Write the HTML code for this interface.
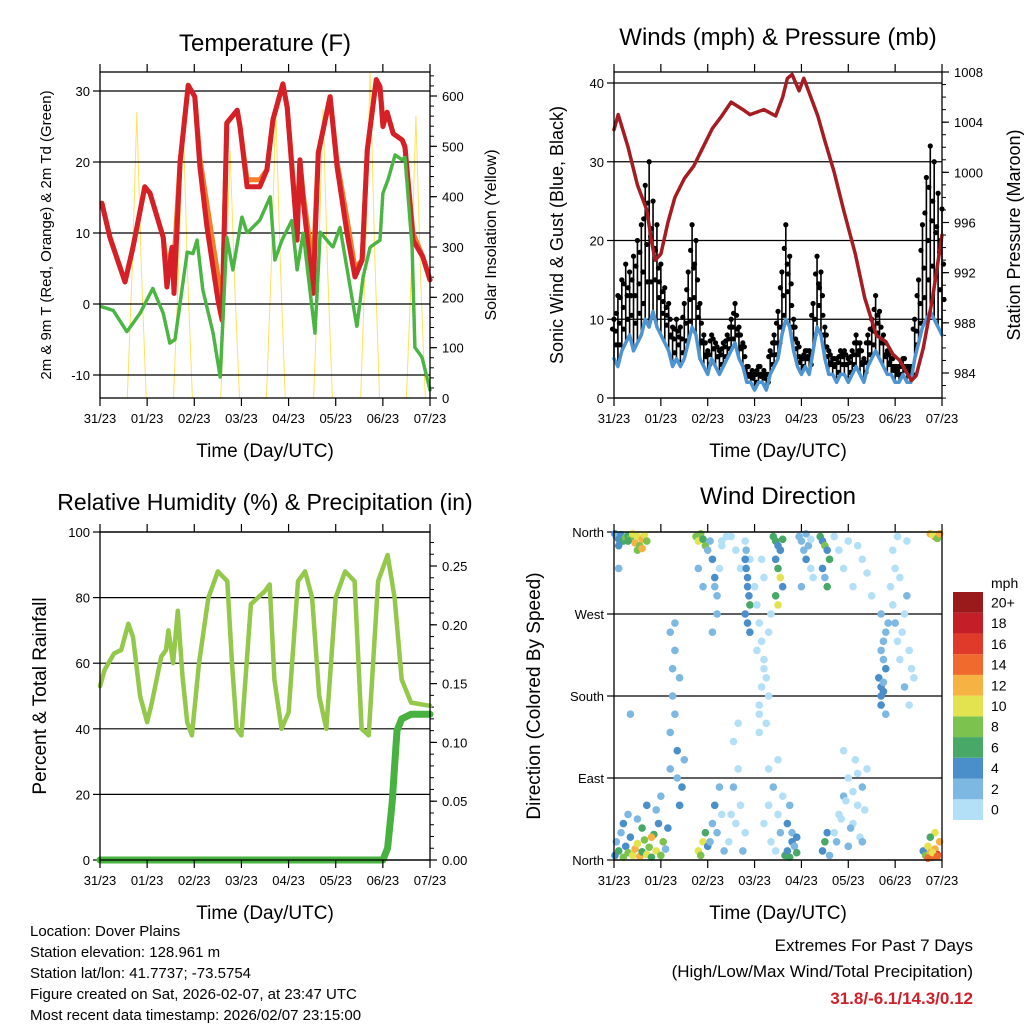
<!DOCTYPE html>
<html><head><meta charset="utf-8"><style>
body{margin:0;background:#fff;}
svg{display:block;font-family:"Liberation Sans",sans-serif;}
</style></head><body>
<svg id="c" width="1024" height="1024" viewBox="0 0 1024 1024"></svg>
<script>
// ---------- DATA ----------
const dayLabels=["31/23","01/23","02/23","03/23","04/23","05/23","06/23","07/23"];
const tempTicks=[-10,0,10,20,30];
const solarTicks=[0,100,200,300,400,500,600];
const windTicks=[0,10,20,30,40];
const presTicks=[984,988,992,996,1000,1004,1008];
const rhTicks=[0,20,40,60,80,100];
const rainTicks=[0,0.05,0.10,0.15,0.20,0.25];
const rainTickLabels=["0.00","0.05","0.10","0.15","0.20","0.25"];
const dirTicks=[0,90,180,270,360];
const dirLabels=["North","East","South","West","North"];
const speedBins=["0","2","4","6","8","10","12","14","16","18","20+"];

const tempT=[0.04,0.21,0.53,0.70,0.95,1.06,1.34,1.42,1.53,1.57,1.70,1.87,2.01,2.12,2.27,2.50,2.59,2.69,2.91,2.97,3.12,3.39,3.54,3.67,3.88,3.97,4.14,4.18,4.24,4.31,4.52,4.63,4.88,5.03,5.24,5.41,5.56,5.67,5.86,5.94,6.00,6.09,6.22,6.41,6.47,6.64,6.85,7.0];
const tempRed=[14.2,9.4,3.1,8,16.5,15.6,9.4,2.4,8,1.5,20,30.8,29.2,19.3,10.8,0.6,-2.3,25.5,27.3,25,16.5,16.5,18.9,26,31,27.7,13.2,9,20.3,14.6,1.5,21.3,29.2,19.3,10,3.8,6.2,21.7,31.6,30.6,25,27,24,23.1,22.1,9,6.6,3.4];
const tempOrange=[14.2,9.4,3.1,8,16.5,15.6,9.4,5,8,6,20,30.8,29.2,20.5,14,4,-1,25.5,27.3,25,17.5,17.5,18.9,26,31,27.7,14,11,20.3,15.5,5,21.3,29.2,20,12,5,6.2,21.7,31.6,30.6,26,27,24,23.1,22.1,10,6.6,3.4];
const dewT=[0.04,0.28,0.57,0.85,1.12,1.34,1.48,1.59,1.85,1.97,2.06,2.18,2.40,2.55,2.69,2.82,3.01,3.12,3.39,3.61,3.71,3.86,4.07,4.18,4.31,4.56,4.67,4.94,5.09,5.45,5.58,5.73,5.94,6.00,6.11,6.26,6.41,6.47,6.62,6.68,6.83,7.0];
const dewV=[-0.4,-0.9,-3.9,-1.3,2.2,-1.3,-5.5,-5,7.3,7.1,9,2,-4.1,-10.3,9.4,4.8,12.3,10,11.8,15.1,6.2,9,11.8,4.8,10,-4.1,10.1,8,10.8,-3.2,3.8,8,9,15.6,17.5,21,20.3,20.7,8,-6.1,-7.5,-12.1];
const solarT=[0.58,0.68,0.78,0.88,0.98, 1.56,1.66,1.76,1.86,1.96, 2.56,2.66,2.76,2.86,2.96, 3.53,3.63,3.73,3.83,3.93, 4.53,4.63,4.73,4.83,4.93, 5.53,5.63,5.73,5.83,5.93, 6.50,6.60,6.70,6.80,6.90];
const solarV=[0,250,567,250,0, 0,240,560,240,0, 0,220,490,220,0, 0,250,573,250,0, 0,250,573,250,0, 0,280,648,280,0, 0,240,560,240,0];

const wind=[5,4,6,7,8,6,7, 8,10,9,11,9,8,7,6, 4,5,4,5, 7,9,8,5, 4,3,5,4,3,4,5, 6,7,5,4, 2,2,1,2,2,1, 3,4,5, 8,10,9,6, 4,3,4,3, 6,9,8,5, 3,3,2,3,3,2,3,4,3,2, 4,5,6,5,4,3, 3,2,2,3,2,2, 5,7,9,10,11,10,9,8];
const gust=[10,13,15,17,16,18,20, 22,27,30,25,22,17,14,12, 9,10,9,12, 16,22,20,12, 8,6,8,7,6,7,8, 10,12,9,7, 4,3,3,4,3,3, 6,8,11, 16,22,18,10, 7,5,6,6, 12,18,16,9, 6,5,5,6,6,5,6,8,7,5, 8,10,13,11,8,6, 5,4,4,5,4,4, 10,15,22,28,32,30,26,24];
const presT=[0,0.09,0.3,0.5,0.7,0.8,0.88,1.0,1.15,1.3,1.5,1.7,1.9,2.1,2.3,2.5,2.75,2.9,3.2,3.45,3.6,3.7,3.8,3.95,4.05,4.2,4.35,4.5,4.7,4.9,5.15,5.35,5.6,5.8,5.95,6.1,6.25,6.35,6.45,6.6,6.8,7.0];
const presV=[1003.4,1004.6,1002,999,997,994.5,993,993.5,996,998,999.5,1000.5,1002,1003.5,1004.5,1005.6,1005,1004.6,1005,1004.5,1006,1007.5,1007.8,1006.5,1007.5,1006,1004.5,1002.5,1000,997,993.5,990,987,986.5,985.5,985,984,983.4,983.8,986,990,995];

const rhT=[0,0.1,0.3,0.45,0.6,0.7,0.85,1.0,1.1,1.3,1.4,1.45,1.55,1.65,1.75,1.85,1.95,2.1,2.3,2.5,2.7,2.8,2.9,3.0,3.2,3.5,3.6,3.7,3.85,4.0,4.2,4.35,4.5,4.65,4.8,5.0,5.2,5.4,5.55,5.7,5.9,6.1,6.25,6.4,6.6,7.0];
const rhV=[53,58,63,64,72,68,50,42,48,62,64,70,60,76,56,42,38,60,80,88,85,60,40,38,78,82,84,55,40,45,85,88,80,50,40,80,88,85,40,38,85,93,80,55,48,47];
const rainT=[0,6.0,6.1,6.2,6.25,6.3,6.4,6.6,7.0];
const rainV=[0,0,0.01,0.05,0.08,0.11,0.12,0.124,0.124];

const wdT=[0.02,0.05,0.1,0.15,0.2,0.25,0.3,0.35,0.4,0.45,0.5,0.55,0.6,0.65,0.7,0.1,0.3,0.5,0.6,
0.02,0.05,0.1,0.15,0.2,0.25,0.3,0.35,0.4,0.45,0.5,0.55,0.6,0.65,0.7,0.75,0.8,0.85,0.9,0.95,1.0,1.05,1.1,1.15,0.3,0.5,0.7,0.9,1.0,0.2,0.6,0.8,
1.2,1.2,1.25,1.25,1.3,1.3,1.35,1.35,1.4,1.45,1.3,1.2,1.4,1.5,0.1,0.35,
1.75,1.8,1.85,1.9,1.95,1.8,1.85,1.9,1.95,2.0,1.8,1.9,
2.0,2.05,2.1,2.15,2.2,2.25,2.3,2.05,2.1,2.15,2.2,2.25,2.3,2.35,2.1,2.2,2.3,2.4,2.15,
2.45,2.5,2.55,2.6,2.65,2.7,2.75,2.8,2.5,2.6,2.7,2.8,2.9,2.55,2.65,
2.8,2.82,2.85,2.85,2.88,2.9,2.8,2.85,2.9,2.82,
3.0,3.05,3.1,3.15,3.2,3.25,3.3,3.1,3.15,3.2,3.05,3.1,3.25,3.3,3.35,3.2,3.15,3.1,
3.2,3.3,3.35,3.4,3.45,3.5,3.55,3.6,3.3,3.5,
3.4,3.45,3.5,3.55,3.6,3.45,3.5,3.55,3.5,3.6,3.45,3.55,
3.65,3.7,3.75,3.8,3.85,3.9,3.7,3.8,3.75,3.9,
3.95,4.0,4.05,4.1,4.15,4.2,4.0,4.1,4.2,4.25,
4.4,4.45,4.5,4.55,4.6,4.45,4.5,4.55,4.5,4.45,4.55,4.6,
4.7,4.8,4.9,5.0,5.1,5.2,5.3,5.4,4.75,4.85,4.95,5.05,5.15,5.25,5.35,5.0,5.1,5.2,5.3,4.9,
4.7,4.8,4.9,5.0,5.1,5.2,5.3,5.4,5.5,
5.65,5.7,5.75,5.7,5.75,5.8,5.7,5.75,5.8,5.85,5.7,5.8,5.75,5.7,
5.9,5.95,6.0,6.05,6.1,6.15,6.2,6.25,6.3,6.35,6.4,6.0,6.1,6.2,6.3,5.95,6.05,6.25,
6.6,6.65,6.7,6.75,6.8,6.85,6.9,6.95,6.7,6.8,6.9,6.75,6.85,6.8,6.9,6.95,6.85,6.75];
const wdDir=[358,355,352,357,350,354,356,353,358,348,355,345,352,357,350,345,350,340,342,
5,20,10,30,3,15,8,25,5,12,18,4,9,22,6,14,3,28,10,40,5,20,12,35,50,45,60,55,70,40,35,25,
100,140,180,210,230,260,120,90,60,80,160,250,200,110,320,160,
355,350,358,352,345,10,5,20,30,15,320,300,
340,350,330,300,290,320,345,20,40,60,30,80,50,10,250,270,350,355,310,
20,50,80,40,100,60,10,30,355,340,320,350,330,130,150,
330,320,310,300,290,280,270,260,250,340,
300,280,260,240,220,200,180,160,190,210,230,170,150,250,270,310,330,140,
40,60,20,80,10,50,30,70,100,110,
355,350,345,340,352,330,320,310,280,300,290,340,
5,10,3,20,15,8,40,30,60,25,
355,350,340,330,345,320,300,358,352,310,
355,350,345,340,330,320,310,300,20,10,30,5,
30,50,70,90,40,60,80,100,20,45,65,35,110,25,55,15,75,95,20,120,
355,340,320,350,300,345,330,315,290,
200,190,185,180,195,210,230,240,250,260,170,160,220,270,
300,280,260,240,220,250,270,290,230,210,200,320,310,190,170,340,355,350,
10,5,15,8,3,12,6,20,2,8,4,358,355,357,353,358,30,25];
const wdSpd=[4,3,5,4,7,8,6,9,11,12,10,8,13,11,9,4,7,8,12,
4,3,6,2,8,5,9,4,11,12,10,13,7,9,10,8,6,7,10,4,9,8,3,5,3,2,4,3,2,4,6,12,
3,2,3,2,3,2,4,3,5,4,2,3,2,3,3,3,
9,10,8,6,9,10,8,11,7,4,3,2,
2,3,4,2,3,0,1,3,2,4,2,3,1,2,2,3,0,1,4,
1,0,2,1,0,1,2,0,0,1,0,1,0,1,0,
4,5,4,5,4,6,4,5,4,3,
0,0,1,0,0,1,0,0,1,0,0,1,0,0,1,0,0,1,
1,0,1,2,0,1,2,1,0,1,
6,7,5,8,6,5,6,10,10,4,7,4,
6,5,7,4,3,6,4,3,2,4,
3,2,3,4,2,1,2,3,1,0,
6,5,8,4,6,4,3,7,6,4,5,3,
1,0,2,1,0,1,2,0,3,1,0,2,1,0,1,3,0,1,2,0,
0,1,0,1,0,1,0,1,0,
4,4,5,4,3,4,2,3,2,3,4,3,2,3,
1,0,2,1,0,1,0,2,1,0,1,0,1,2,0,1,0,1,
4,8,10,12,14,13,16,12,14,11,15,12,14,10,8,12,10,6];

const binColors=["#b3e0f7","#7db8e2","#4a8fc9","#48a868","#7cc24e","#e3e34f","#f7b244","#f06a2e","#e03a2a","#c41f28","#9a1a1c"];

// ---------- HELPERS ----------
const NS="http://www.w3.org/2000/svg";
const svg=document.getElementById('c');
function mk(tag,attrs,parent){const e=document.createElementNS(NS,tag);for(const k in attrs)e.setAttribute(k,attrs[k]);(parent||svg).appendChild(e);return e;}
function txt(s,x,y,size,anchor,parent,extra){const e=mk('text',Object.assign({x:x,y:y,'font-size':size,'text-anchor':anchor||'middle',fill:'#000'},extra||{}),parent);e.textContent=s;return e;}
function lin(d0,d1,r0,r1){return v=>r0+(v-d0)/(d1-d0)*(r1-r0);}
function poly(xs,ys,fx,fy,stroke,w,parent){let p='';for(let i=0;i<xs.length;i++)p+=(i?'L':'M')+fx(xs[i]).toFixed(1)+','+fy(ys[i]).toFixed(1);return mk('path',{d:p,fill:'none',stroke:stroke,'stroke-width':w,'stroke-linejoin':'round','stroke-linecap':'round'},parent);}

function frame(g,L,R,T,B,fx){
  mk('rect',{x:L,y:T,width:R-L,height:B-T,fill:'none',stroke:'#000','stroke-width':1.3},g);
  dayLabels.forEach((d,i)=>{const x=fx(i);
    mk('line',{x1:x,y1:B,x2:x,y2:B+8,stroke:'#000','stroke-width':1.2},g);
    mk('line',{x1:x,y1:T,x2:x,y2:T-8,stroke:'#000','stroke-width':1.2},g);
    const t=txt(d,x,B+25,13,'middle',g);
    
    
  });
  const xt=txt("Time (Day/UTC)",(L+R)/2,B+59,19,'middle',g);
  
  
}
function yTicks(g,vals,labels,fy,x,side,grid,L,R){
  vals.forEach((v,i)=>{const y=fy(v);
    if(side==='left'){mk('line',{x1:x,y1:y,x2:x-7,y2:y,stroke:'#000','stroke-width':1.2},g);
      const t=txt(labels?labels[i]:String(v),x-10,y+5,13,'end',g);
      
      
      if(grid)mk('line',{x1:L,y1:y,x2:R,y2:y,stroke:'#000','stroke-width':1.2},g);
    } else {mk('line',{x1:x,y1:y,x2:x+7,y2:y,stroke:'#000','stroke-width':1.2},g);
      const t=txt(labels?labels[i]:String(v),x+12,y+5,13,'start',g);
      
      }
  });
}
function minor(g,v0,v1,step,fy,x,dir){for(let v=v0;v<=v1+1e-9;v+=step){const y=fy(v);mk('line',{x1:x,y1:y,x2:x+dir*4,y2:y,stroke:'#000','stroke-width':1},g);}}
function vtitle(s,x,y,size,g){const t=txt(s,x,y,size,'middle',g,{transform:`rotate(-90 ${x} ${y})`});return t;}

// ---------- PANEL 1: TEMPERATURE ----------
(function(){
  const g=mk('g',{});
  
  
  const L=100,R=430,T=72,B=398;
  const fx=lin(0,7,L,R), fy=lin(-10,30,375,91), fs=lin(0,600,398,96);
  poly(solarT,solarV,fx,fs,'#ffe25a',1,g);
  yTicks(g,tempTicks,null,fy,L,'left',true,L,R);
  yTicks(g,solarTicks,null,fs,R,'right',false);
  minor(g,20,640,20,fs,R,1);
  const o=poly(tempT,tempOrange,fx,fy,'#f47c2a',5,g);
  const r=poly(tempT,tempRed,fx,fy,'#d42026',5,g);
  const d=poly(dewT,dewV,fx,fy,'#4bb544',3.5,g);
  d.setAttribute('stroke-dasharray','2,1.5');
  frame(g,L,R,T,B,fx);
  const t=txt("Temperature (F)",265,51,24,'middle',g);
  vtitle("2m & 9m T (Red, Orange) & 2m Td (Green)",51,235,15,g);
  vtitle("Solar Insolation (Yellow)",496,235,16,g);
})();

// ---------- PANEL 2: WINDS ----------
(function(){
  const g=mk('g',{});
  
  
  const L=614,R=942,T=72,B=398;
  const fx=lin(0,7,L,R), fy=lin(0,40,398,83), fp=lin(984,1008,373,72);
  yTicks(g,windTicks,null,fy,L,'left',true,L,R);
  yTicks(g,presTicks,null,fp,R,'right',false);
  minor(g,982,1008,1,fp,R,1);
  const gg=mk('g',{},g);
  
  gust.forEach((v,i)=>{const x=fx(i/12);
    const b=mk('line',{x1:x,y1:fy(wind[i]),x2:x,y2:fy(v),stroke:'#000','stroke-width':1.6},gg);
    
    const c=mk('circle',{cx:x,cy:fy(v),r:2.6,fill:'#000'},gg);
    
    const c2=mk('circle',{cx:x+1.5,cy:fy((v+wind[i])/2+1),r:2.6,fill:'#000'},gg);
    
    const c3=mk('circle',{cx:x-1.5,cy:fy((3*v+wind[i])/4),r:2.6,fill:'#000'},gg);
    
    const c4=mk('circle',{cx:x+2,cy:fy((v+3*wind[i])/4+0.5),r:2.6,fill:'#000'},gg);
    
  });
  const wt=wind.map((v,i)=>i/12);
  const w=poly(wt,wind,fx,fy,'#4d94d0',3.5,g);
  const p=poly(presT,presV,fx,fp,'#a51c22',3.5,g);
  frame(g,L,R,T,B,fx);
  txt("Winds (mph) & Pressure (mb)",778,45,24,'middle',g);
  vtitle("Sonic Wind & Gust (Blue, Black)",563,235,18,g);
  vtitle("Station Pressure (Maroon)",1020,235,18,g);
})();

// ---------- PANEL 3: RH & PRECIP ----------
(function(){
  const g=mk('g',{});
  
  
  const L=100,R=430,T=532,B=860;
  const fx=lin(0,7,L,R), fy=lin(0,100,860,532), fr=lin(0,0.25,860,566);
  yTicks(g,rhTicks,null,fy,L,'left',true,L,R);
  yTicks(g,rainTicks,rainTickLabels,fr,R,'right',false);
  minor(g,0,0.27,0.01,fr,R,1);
  const h=poly(rhT,rhV,fx,fy,'#93c84a',4.5,g);
  const p=poly(rainT,rainV,fx,fr,'#47b23f',7,g);
  frame(g,L,R,T,B,fx);
  txt("Relative Humidity (%) & Precipitation (in)",265,510,23,'middle',g);
  vtitle("Percent & Total Rainfall",46,696,19,g);
})();

// ---------- PANEL 4: WIND DIRECTION ----------
(function(){
  const g=mk('g',{});
  
  
  const L=614,R=942,T=532,B=860;
  const fx=lin(0,7,L,R), fy=lin(0,360,860,532);
  yTicks(g,dirTicks,dirLabels,fy,L,'left',true,L,R);
  const sg=mk('g',{},g);
  
  wdT.forEach((t,i)=>{const bin=Math.min(10,Math.floor(wdSpd[i]/2));
    const c=mk('circle',{cx:fx(t),cy:fy(wdDir[i]),r:3.8,fill:binColors[bin]},sg);
    
  });
  frame(g,L,R,T,B,fx);
  txt("Wind Direction",778,504,24,'middle',g);
  vtitle("Direction (Colored By Speed)",540,696,19,g);
  const cb=mk('g',{},g);
  
  const bh=228/11;
  speedBins.forEach((s,i)=>{const y=820-(i+1)*bh;
    const r=mk('rect',{x:953,y:y,width:30,height:bh,fill:binColors[i]},cb);
    
    const t=txt(s,991,y+bh/2+5,14,'start',cb);
    
  });
  txt("mph",991,588,14,'start',cb);
})();

// ---------- FOOTER ----------
(function(){
  const g=mk('g',{});
  
  
  ["Location: Dover Plains","Station elevation: 128.961 m","Station lat/lon: 41.7737; -73.5754","Figure created on Sat, 2026-02-07, at 23:47 UTC","Most recent data timestamp: 2026/02/07 23:15:00"].forEach((s,i)=>{
    const t=txt(s,30,936+i*21,15,'start',g);});
  const e=mk('g',{});
  
  
  txt("Extremes For Past 7 Days",973,951,17,'end',e);
  txt("(High/Low/Max Wind/Total Precipitation)",973,977,17,'end',e);
  txt("31.8/-6.1/14.3/0.12",973,1004,17,'end',e,{fill:'#d0202a','font-weight':'bold'});
})();
</script>
</body></html>
